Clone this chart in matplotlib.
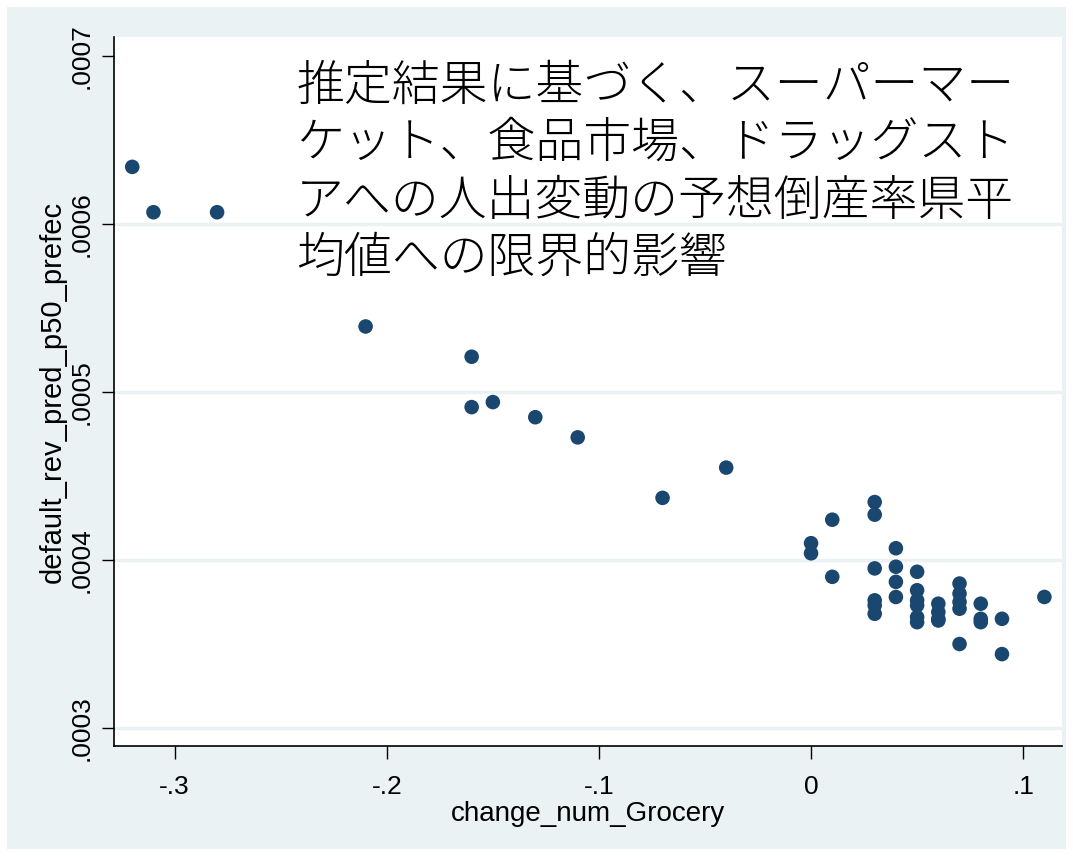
import matplotlib
matplotlib.use("Agg")
import matplotlib.pyplot as plt
from matplotlib.patches import Rectangle

# データ
change_num_grocery = [-0.32, -0.31, -0.28, -0.21, -0.16, -0.16, -0.15, -0.13, -0.11, -0.07, -0.04,
                      0.00, 0.00, 0.01, 0.01,
                      0.03, 0.03, 0.03, 0.03, 0.03, 0.03,
                      0.04, 0.04, 0.04, 0.04,
                      0.05, 0.05, 0.05, 0.05, 0.05, 0.05,
                      0.06, 0.06, 0.06, 0.06,
                      0.07, 0.07, 0.07, 0.07, 0.07,
                      0.08, 0.08, 0.08,
                      0.09, 0.09,
                      0.11]
default_rev_pred = [0.000634, 0.000607, 0.000607, 0.000539, 0.000521, 0.000491, 0.000494, 0.000485, 0.000473, 0.000437, 0.000455,
                    0.000410, 0.000404, 0.000424, 0.000390,
                    0.0004345, 0.000427, 0.000395, 0.000376, 0.000373, 0.000368,
                    0.000407, 0.000396, 0.000387, 0.000378,
                    0.000393, 0.000382, 0.000376, 0.000373, 0.000366, 0.000363,
                    0.000374, 0.000369, 0.000365, 0.000364,
                    0.000386, 0.000380, 0.000375, 0.000371, 0.000350,
                    0.000374, 0.000365, 0.000363,
                    0.000365, 0.000344,
                    0.000378]

x_ticks = [-0.3, -0.2, -0.1, 0.0, 0.1]
x_labels = ["-.3", "-.2", "-.1", "0", ".1"]
y_ticks = [0.0003, 0.0004, 0.0005, 0.0006, 0.0007]
y_labels = [".0003", ".0004", ".0005", ".0006", ".0007"]
grid_vals = [0.0003, 0.0004, 0.0005, 0.0006]

title = ("推定結果に基づく、スーパーマー\nケット、食品市場、ドラッグスト\n"
         "アへの人出変動の予想倒産率県平\n均値への限界的影響")

bg = "#EAF2F3"
navy = "#1A476F"

fig = plt.figure(figsize=(10.73, 8.56), dpi=100, facecolor="white")
# 外側の背景（Stata風）
fig.patches.append(Rectangle((7 / 1073, 7 / 856), 1059 / 1073, 842 / 856,
                             transform=fig.transFigure, facecolor=bg, edgecolor="none", zorder=-5))

ax = fig.add_axes([114 / 1073, 1 - 746 / 856, 948 / 1073, 709 / 856])
ax.set_facecolor("white")

for g in grid_vals:
    ax.axhline(g, color=bg, lw=2.5, zorder=1)

ax.scatter(change_num_grocery, default_rev_pred, s=110, color=navy, edgecolors="none", zorder=3)

ax.set_xlim(-0.3286, 0.1183)
ax.set_ylim(0.0002893, 0.0007113)

ax.set_xticks(x_ticks)
ax.set_xticklabels(x_labels, fontsize=19, family="Liberation Sans")
ax.set_yticks(y_ticks)
ax.set_yticklabels(y_labels, fontsize=19, family="Liberation Sans", rotation=90, va="center")
ax.tick_params(direction="out", length=9, width=1, color="black")
ax.tick_params(axis="x", pad=12)
ax.tick_params(axis="y", pad=6)

for side in ["top", "right"]:
    ax.spines[side].set_visible(False)
for side in ["left", "bottom"]:
    ax.spines[side].set_color("black")
    ax.spines[side].set_linewidth(1.2)

ax.set_xlabel("change_num_Grocery", fontsize=20, family="Liberation Sans", labelpad=1)
ax.set_ylabel("default_rev_pred_p50_prefec", fontsize=21, family="Liberation Sans", labelpad=2)

ax.text(0.192, 0.965, title, transform=ax.transAxes, ha="left", va="top",
        fontsize=34.5, fontweight="light", family=["Noto Sans CJK JP", "DejaVu Sans"],
        linespacing=1.22, zorder=4)

fig.savefig("out.png", dpi=100, facecolor="white")
